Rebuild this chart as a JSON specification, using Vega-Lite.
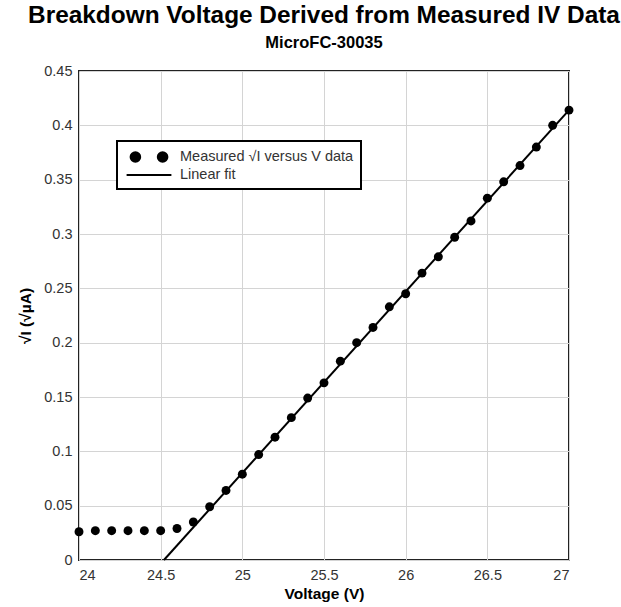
{
  "$schema": "https://vega.github.io/schema/vega-lite/v6.json",
  "width": 490,
  "height": 489,
  "autosize": {"type": "none"},
  "padding": {"left": 79, "top": 71, "right": 52, "bottom": 47},
  "background": "white",
  "title": {
    "text": "Breakdown Voltage Derived from Measured IV Data",
    "subtitle": "MicroFC-30035",
    "font": "Liberation Sans",
    "fontSize": 24.4,
    "fontWeight": "bold",
    "color": "black",
    "subtitleFont": "Liberation Sans",
    "subtitleFontSize": 16.5,
    "subtitleFontWeight": "bold",
    "subtitleColor": "black",
    "subtitlePadding": 6,
    "anchor": "middle",
    "offset": 11
  },
  "config": {
    "view": {"stroke": "#222222", "strokeWidth": 2},
    "axis": {
      "labelFont": "Liberation Sans",
      "labelFontSize": 14.5,
      "labelColor": "#333333",
      "titleFont": "Liberation Sans",
      "titleFontSize": 15.5,
      "titleFontWeight": "bold",
      "titleColor": "black",
      "gridColor": "#d4d4d4",
      "gridWidth": 1,
      "ticks": false,
      "domain": false
    },
    "legend": {
      "orient": "none",
      "legendX": 38,
      "legendY": 70,
      "strokeColor": "black",
      "fillColor": "white",
      "padding": 7,
      "labelFont": "Liberation Sans",
      "labelFontSize": 14.5,
      "labelColor": "#333333",
      "labelLimit": 300,
      "labelOffset": 22,
      "symbolOffset": 16,
      "rowPadding": 0,
      "symbolSize": 256,
      "symbolStrokeWidth": 2
    }
  },
  "layer": [
    {
      "data": {
        "values": [
          {"v": 24.0, "s": 0.026}, {"v": 24.1, "s": 0.027}, {"v": 24.2, "s": 0.027},
          {"v": 24.3, "s": 0.027}, {"v": 24.4, "s": 0.027}, {"v": 24.5, "s": 0.027},
          {"v": 24.6, "s": 0.029}, {"v": 24.7, "s": 0.035}, {"v": 24.8, "s": 0.049},
          {"v": 24.9, "s": 0.064}, {"v": 25.0, "s": 0.079}, {"v": 25.1, "s": 0.097},
          {"v": 25.2, "s": 0.113}, {"v": 25.3, "s": 0.131}, {"v": 25.4, "s": 0.149},
          {"v": 25.5, "s": 0.163}, {"v": 25.6, "s": 0.183}, {"v": 25.7, "s": 0.200},
          {"v": 25.8, "s": 0.214}, {"v": 25.9, "s": 0.233}, {"v": 26.0, "s": 0.245},
          {"v": 26.1, "s": 0.264}, {"v": 26.2, "s": 0.279}, {"v": 26.3, "s": 0.297},
          {"v": 26.4, "s": 0.312}, {"v": 26.5, "s": 0.333}, {"v": 26.6, "s": 0.348},
          {"v": 26.7, "s": 0.363}, {"v": 26.8, "s": 0.380}, {"v": 26.9, "s": 0.400},
          {"v": 27.0, "s": 0.414}
        ]
      },
      "mark": {"type": "point", "filled": true, "size": 80, "opacity": 1, "clip": false},
      "encoding": {
        "x": {
          "field": "v", "type": "quantitative",
          "scale": {"domain": [24, 27], "nice": false, "zero": false},
          "axis": {"values": [24, 24.5, 25, 25.5, 26, 26.5, 27], "format": "~g", "title": "Voltage (V)", "labelPadding": 8, "titlePadding": 5}
        },
        "y": {
          "field": "s", "type": "quantitative",
          "scale": {"domain": [0, 0.45], "nice": false},
          "axis": {"values": [0, 0.05, 0.1, 0.15, 0.2, 0.25, 0.3, 0.35, 0.4, 0.45], "format": "~g", "title": "√I (√µA)", "labelPadding": 7, "titlePadding": 10}
        },
        "color": {
          "datum": "Measured √I versus V data",
          "type": "nominal",
          "scale": {"domain": ["Measured √I versus V data", "Linear fit"], "range": ["black", "black"]},
          "legend": {
            "title": null,
            "encode": {
              "legend": {"update": {"strokeWidth": {"value": 2}}},
              "symbols": {
                "update": {
                  "shape": [
                    {"test": "datum.index === 1", "value": "M-2.8,0L2.8,0"},
                    {"value": "M-2.3,0A0.6,0.6,0,1,1,-1.1,0A0.6,0.6,0,1,1,-2.3,0ZM1.1,0A0.6,0.6,0,1,1,2.3,0A0.6,0.6,0,1,1,1.1,0Z"}
                  ],
                  "fill": [
                    {"test": "datum.index === 1", "value": "transparent"},
                    {"value": "black"}
                  ],
                  "stroke": [
                    {"test": "datum.index === 1", "value": "black"},
                    {"value": "transparent"}
                  ],
                  "opacity": {"value": 1}
                }
              }
            }
          }
        }
      }
    },
    {
      "data": {"values": [{"v": 24.52, "s": 0}, {"v": 27.0, "s": 0.414}]},
      "mark": {"type": "line", "strokeWidth": 2},
      "encoding": {
        "x": {"field": "v", "type": "quantitative"},
        "y": {"field": "s", "type": "quantitative"},
        "color": {
          "datum": "Linear fit",
          "type": "nominal",
          "legend": {
            "title": null,
            "encode": {
              "legend": {"update": {"strokeWidth": {"value": 2}}},
              "symbols": {
                "update": {
                  "shape": [
                    {"test": "datum.index === 1", "value": "M-2.8,0L2.8,0"},
                    {"value": "M-2.3,0A0.6,0.6,0,1,1,-1.1,0A0.6,0.6,0,1,1,-2.3,0ZM1.1,0A0.6,0.6,0,1,1,2.3,0A0.6,0.6,0,1,1,1.1,0Z"}
                  ],
                  "fill": [
                    {"test": "datum.index === 1", "value": "transparent"},
                    {"value": "black"}
                  ],
                  "stroke": [
                    {"test": "datum.index === 1", "value": "black"},
                    {"value": "transparent"}
                  ],
                  "opacity": {"value": 1}
                }
              }
            }
          }
        }
      }
    }
  ]
}
